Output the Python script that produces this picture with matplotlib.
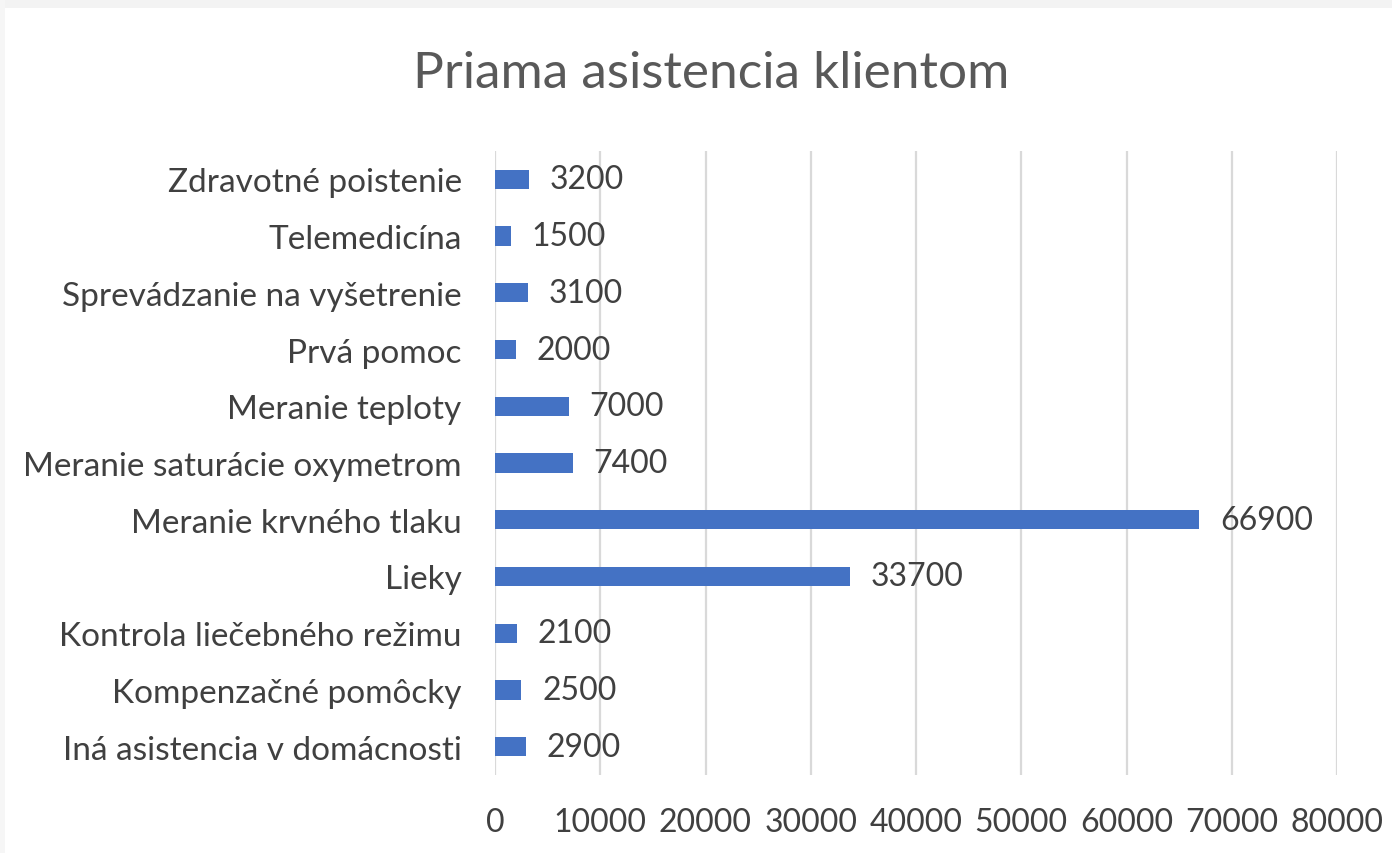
import matplotlib
matplotlib.use("Agg")
import matplotlib.pyplot as plt
from matplotlib.patches import Rectangle

categories = [
    "Iná asistencia v domácnosti",
    "Kompenzačné pomôcky",
    "Kontrola liečebného režimu",
    "Lieky",
    "Meranie krvného tlaku",
    "Meranie saturácie oxymetrom",
    "Meranie teploty",
    "Prvá pomoc",
    "Sprevádzanie na vyšetrenie",
    "Telemedicína",
    "Zdravotné poistenie",
]
values = [2900, 2500, 2100, 33700, 66900, 7400, 7000, 2000, 3100, 1500, 3200]
xticks = [0, 10000, 20000, 30000, 40000, 50000, 60000, 70000, 80000]
title = "Priama asistencia klientom"

plt.rcParams['font.family'] = ['Lato', 'DejaVu Sans']

fig = plt.figure(figsize=(13.92, 8.54), dpi=100)
fig.patch.set_facecolor("white")
# faint top strip as in the screenshot
fig.patches.append(Rectangle((0, 1 - 9 / 854), 1, 9 / 854, transform=fig.transFigure,
                             facecolor="#f3f3f3", edgecolor="none", zorder=0))
fig.patches.append(Rectangle((0, 0), 5 / 1392, 1, transform=fig.transFigure,
                             facecolor="#f6f6f6", edgecolor="none", zorder=0))

ax = fig.add_axes([495 / 1392, 1 - 776 / 854, (1337 - 495) / 1392, (776 - 152) / 854])
ypos = list(range(len(categories)))
ax.barh(ypos, values, height=0.34, color="#4472C4", zorder=3)
ax.set_ylim(-0.5, len(categories) - 0.5)
ax.set_xlim(0, 80000)
ax.set_xticks(xticks)
ax.set_xticklabels([str(t) for t in xticks])
ax.set_yticks(ypos)
ax.set_yticklabels(categories)
ax.grid(axis="x", color="#d9d9d9", linewidth=1.6, zorder=0)
ax.set_axisbelow(True)
for s in ax.spines.values():
    s.set_visible(False)
ax.tick_params(axis="y", length=0, colors="#404040", labelsize=24, pad=24)
ax.tick_params(axis="x", length=0, colors="#404040", labelsize=23, pad=23)
ax.set_facecolor("white")

for y, v in zip(ypos, values):
    ax.annotate(str(v), xy=(v, y), xytext=(15, 0), textcoords="offset points",
                va="center", ha="left", fontsize=23, color="#404040")

fig.text(711 / 1392, 1 - 88 / 854, title, ha="center", va="baseline",
         fontsize=37, color="#595959")

fig.savefig("out.png", dpi=100)
